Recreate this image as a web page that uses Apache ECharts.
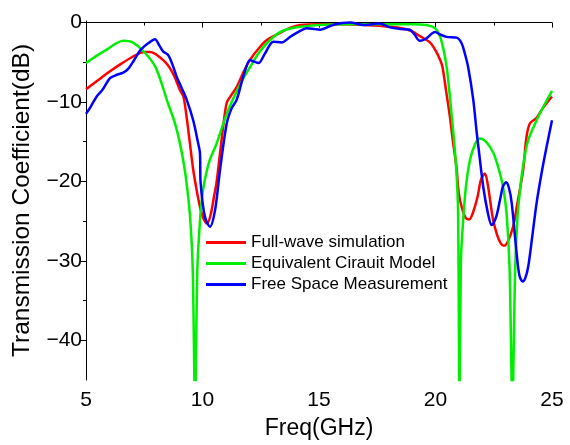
<!DOCTYPE html>
<html>
<head>
<meta charset="utf-8">
<script src="https://cdn.jsdelivr.net/npm/echarts@6/dist/echarts.min.js"></script>
<style>
html,body{margin:0;padding:0;background:#fff;}
#chart{width:570px;height:445px;}
</style>
</head>
<body>
<div id="chart"></div>
<script>
var seriesNames = ['Full-wave simulation', 'Equivalent Cirauit Model', 'Free Space Measurement'];
var yMajorTicks = [0, -10, -20, -30, -40];
var yMinorTicks = [-5, -15, -25, -35];

var redFreq = [5,5.5,6,6.5,7,7.5,7.75,8,8.5,8.8,9.03,9.18,9.3,9.46,9.6,9.75,9.9,10.03,10.2,10.35,10.5,10.6,10.75,10.9,11.04,11.2,11.47,11.75,12.04,12.4,12.76,13.33,13.8,14.2,15,16,17,17.6,18.3,18.9,19.33,19.76,20.0,20.2,20.3,20.45,20.62,20.75,20.9,21.0,21.15,21.3,21.45,21.6,21.8,21.95,22.12,22.25,22.35,22.47,22.65,22.8,22.94,23.1,23.33,23.5,23.76,23.9,24.05,24.34,24.6,25.0];
var redDb = [-8.4,-7.3,-6.2,-5.2,-4.3,-3.7,-3.7,-4.0,-5.3,-6.8,-8.5,-9.3,-11.5,-15.2,-18.5,-21.1,-23.3,-24.6,-25.3,-24.2,-21.8,-20.2,-16.5,-12.8,-10.1,-9.3,-8.1,-6.3,-4.7,-3.3,-2.2,-1.3,-0.6,-0.3,-0.2,-0.2,-0.3,-0.4,-0.6,-1.0,-1.7,-2.5,-3.5,-4.7,-5.6,-8.5,-11.9,-15.0,-18.2,-21.5,-23.5,-24.6,-24.8,-24.0,-22.0,-19.8,-19.0,-20.5,-22.5,-24.8,-26.8,-27.8,-28.1,-27.6,-25.7,-23.0,-18.6,-14.5,-12.7,-12.0,-10.8,-9.3];

var greenFreq = [5,5.5,6,6.3,6.6,7,7.5,8,8.5,8.8,9.0,9.2,9.35,9.48,9.58,9.68,9.78,9.88,9.98,10.1,10.3,10.61,11.0,11.3,11.7,12.04,12.4,12.76,13.33,14.04,15,16,17,18,19,19.6,19.98,20.2,20.35,20.48,20.6,20.7,20.8,20.9,20.97,21.03,21.09,21.19,21.3,21.48,21.7,21.9,22.2,22.48,22.7,22.9,23.05,23.18,23.3,23.42,23.52,23.65,23.8,23.98,24.34,24.63,25.0];
var greenDb = [-5.1,-4.1,-3.2,-2.6,-2.3,-2.5,-3.7,-5.7,-10.0,-12.5,-14.8,-17.8,-21.0,-25.0,-31,-48,-31,-25.5,-22.0,-19.8,-17.4,-15.2,-11.8,-9.7,-7.3,-5.6,-3.9,-2.6,-1.2,-0.6,-0.3,-0.2,-0.2,-0.2,-0.2,-0.3,-0.7,-1.8,-3.5,-5.6,-8.8,-11.9,-15,-18.8,-24,-48,-30,-24.8,-20.8,-17.3,-15.3,-14.6,-15.1,-16.4,-18.3,-20.7,-24.0,-31,-48,-31,-24.5,-20.5,-17.3,-14.8,-12.3,-10.6,-8.6];

var blueFreq = [5,5.2,5.46,5.7,6.03,6.3,6.6,6.82,7.05,7.32,7.5,7.67,7.96,8.15,8.3,8.53,8.7,8.89,9.1,9.32,9.6,9.8,9.89,9.92,10.1,10.32,10.54,10.75,11.04,11.25,11.47,11.75,12.04,12.2,12.4,12.68,13.04,13.4,13.76,14.1,14.47,14.8,15.04,15.6,16.33,16.9,17.3,17.6,18.05,18.5,18.9,19.1,19.33,19.6,19.98,20.2,20.48,20.91,21.12,21.25,21.4,21.62,21.77,21.84,22.05,22.25,22.41,22.6,22.77,22.9,23.03,23.15,23.27,23.48,23.6,23.74,23.85,23.98,24.15,24.34,24.55,24.77,25.0];
var blueDb = [-11.5,-10.6,-9.3,-8.5,-7.0,-6.6,-6.3,-5.8,-4.8,-3.5,-3.0,-2.6,-2.1,-2.9,-3.6,-4.1,-5.2,-6.8,-8.2,-9.7,-12.3,-15.0,-16.4,-20.2,-24.4,-25.7,-23.6,-18.6,-12.7,-10.8,-9.7,-6.8,-4.7,-4.9,-5.1,-3.9,-2.4,-2.5,-1.8,-1.2,-0.7,-0.8,-0.9,-0.3,0,-0.3,-0.2,-0.1,-0.6,-0.8,-0.9,-1.5,-2.3,-2.0,-1.2,-1.5,-1.8,-1.9,-2.6,-3.8,-5.6,-9.7,-13.9,-15.6,-20.7,-24.0,-25.5,-24.5,-22.3,-20.6,-20.1,-20.8,-22.7,-29,-31.8,-32.6,-32.2,-30.7,-27,-22.7,-19,-15.6,-12.3];

function pairs(xs, ys){ return xs.map(function(x,i){ return [x, ys[i]]; }); }

var font = 'Liberation Sans, Arial, sans-serif';
var chart = echarts.init(document.getElementById('chart'), null, {renderer:'canvas'});
chart.setOption({
  animation:false,
  backgroundColor:'#fff',
  grid:{left:86, right:18, top:21, bottom:64, containLabel:false},
  legend:{
    orient:'vertical', left:206, top:234, padding:0, itemGap:4,
    icon:'rect', itemWidth:40, itemHeight:3,
    textStyle:{fontFamily:font, fontSize:17, color:'#000', lineHeight:17},
    data:seriesNames
  },
  xAxis:{
    type:'value', min:5, max:25, interval:5,
    name:'Freq(GHz)', nameLocation:'middle', nameGap:37,
    nameTextStyle:{fontFamily:font, fontSize:23, color:'#000'},
    axisLine:{lineStyle:{color:'#000', width:1}},
    axisTick:{inside:false, length:5, lineStyle:{color:'#000'}},
    minorTick:{show:true, splitNumber:2, length:3, lineStyle:{color:'#000'}},
    axisLabel:{fontFamily:font, fontSize:21, color:'#000', margin:10},
    splitLine:{show:false}
  },
  yAxis:[{
    type:'value', min:-45, max:0.2,
    name:'Transmission Coefficient(dB)', nameLocation:'middle', nameGap:51,
    nameTextStyle:{fontFamily:font, fontSize:24.5, color:'#000'},
    axisLine:{show:true, lineStyle:{color:'#000', width:1}},
    axisTick:{show:true, length:6, customValues:yMajorTicks, lineStyle:{color:'#000'}},
    axisLabel:{fontFamily:font, fontSize:21, color:'#000', margin:4, customValues:yMajorTicks,
      formatter:function(v){ return String(v).replace('-', '\u2212'); }},
    splitLine:{show:false}
  },{
    type:'value', min:-45, max:0.2, position:'left',
    axisLine:{show:false},
    axisTick:{show:true, length:3, customValues:yMinorTicks, lineStyle:{color:'#000'}},
    axisLabel:{show:false},
    splitLine:{show:false}
  }],
  series:[
    {name:seriesNames[0], type:'line', data:pairs(redFreq, redDb), showSymbol:false, smooth:0.3, clip:true,
     color:'#ff0000', lineStyle:{width:2.5, color:'#ff0000'}},
    {name:seriesNames[1], type:'line', data:pairs(greenFreq, greenDb), showSymbol:false, smooth:0.3, clip:true,
     color:'#00ee00', lineStyle:{width:2.5, color:'#00ee00'}},
    {name:seriesNames[2], type:'line', data:pairs(blueFreq, blueDb), showSymbol:false, smooth:0.3, clip:true,
     color:'#0000ff', lineStyle:{width:2.5, color:'#0000ff'}}
  ]
});
</script>
</body>
</html>
